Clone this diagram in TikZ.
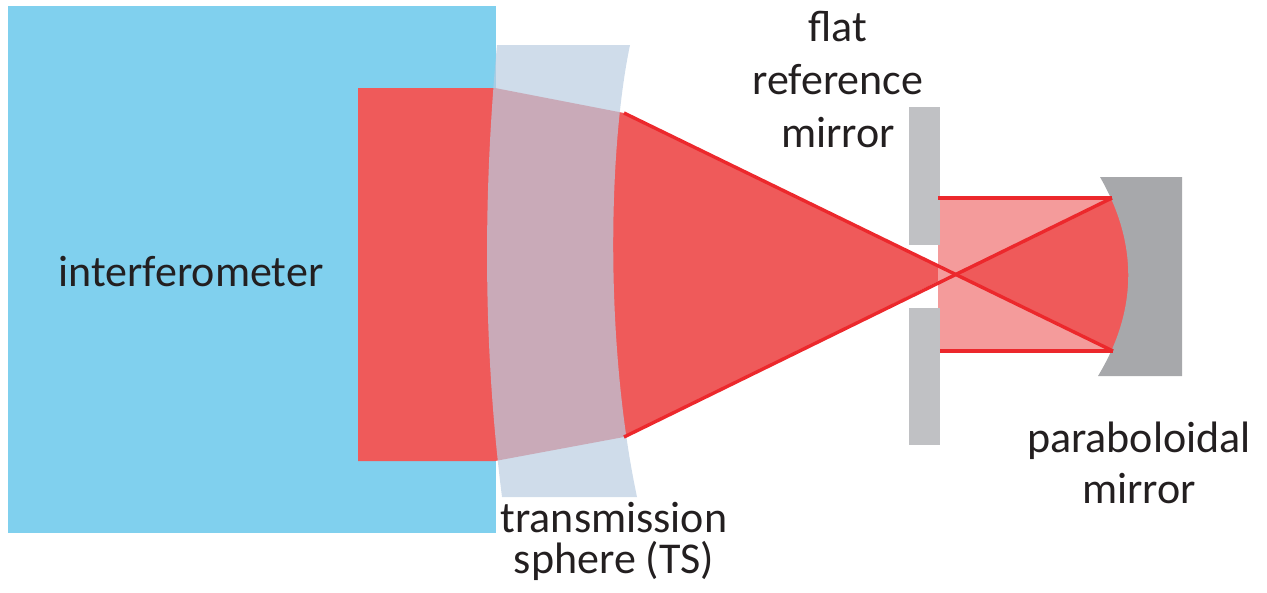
\documentclass[tikz,border=0pt]{standalone}
\usepackage{fontspec}
\setmainfont{Carlito}
\definecolor{ifmblue}{RGB}{128,208,238}
\definecolor{beamred}{RGB}{239,90,90}
\definecolor{beampink}{RGB}{244,155,155}
\definecolor{rayred}{RGB}{236,40,44}
\definecolor{lensgray}{RGB}{186,205,225}
\definecolor{flatgray}{RGB}{192,193,196}
\definecolor{paragray}{RGB}{167,168,171}
\definecolor{labelblack}{RGB}{35,31,32}
\tikzset{
  lbl/.style={font=\fontsize{44}{53}\selectfont, text=labelblack, align=center, anchor=base},
  ray/.style={draw=rayred, line width=3.4pt},
}
\begin{document}
\begin{tikzpicture}[y=1pt, x=1pt, yscale=-1, inner sep=0pt, outer sep=0pt]
\useasboundingbox (0,0) rectangle (1267,592);
\path[fill=ifmblue] (8,6) rectangle (496,533);
\coordinate (lensTop) at (624,113);
\coordinate (lensBot) at (624,437);
\coordinate (focus) at (955,273);
\coordinate (beamTopL) at (938,198);
\coordinate (beamBotL) at (940,351);
\coordinate (paraTop) at (1112,198);
\coordinate (paraBot) at (1113,351);
\path[fill=beamred] (358,88) -- (495,88) -- (lensTop) -- (focus) -- (lensBot) -- (495,461) -- (358,461) -- cycle;
\path[fill=beampink] (beamTopL) rectangle (1140,351);
\path[fill=beamred] (focus) -- (paraTop) -- (1140,198) -- (1140,351) -- (paraBot) -- cycle;
\path[fill=lensgray, fill opacity=0.7] (497,45) -- (630,45) .. controls (608,150) and (605,346) .. (637,497) -- (502,497) .. controls (483,346) and (483,196) .. cycle;
\path[fill=flatgray] (909,107) rectangle (940,245);
\path[fill=flatgray] (909,308) rectangle (940,445);
\path[fill=paragray] (1100,177) -- (1182,177) -- (1182,376) -- (1098,376) .. controls (1138,310) and (1138,243) .. cycle;
\draw[ray] (lensTop) -- (paraBot);
\draw[ray] (lensBot) -- (paraTop);
\draw[ray] (beamTopL) -- (paraTop);
\draw[ray] (beamBotL) -- (paraBot);
\node[lbl] (ifm) at (191,286) {interferometer};
\node[lbl] (flatlbl) at (838,147) {flat\\reference\\mirror};
\node[lbl, font=\fontsize{44}{41}\selectfont] (tslbl) at (614,573) {transmission\\sphere (TS)};
\node[lbl, font=\fontsize{44}{51}\selectfont] (paralbl) at (1139,503) {paraboloidal\\mirror};
\end{tikzpicture}
\end{document}
